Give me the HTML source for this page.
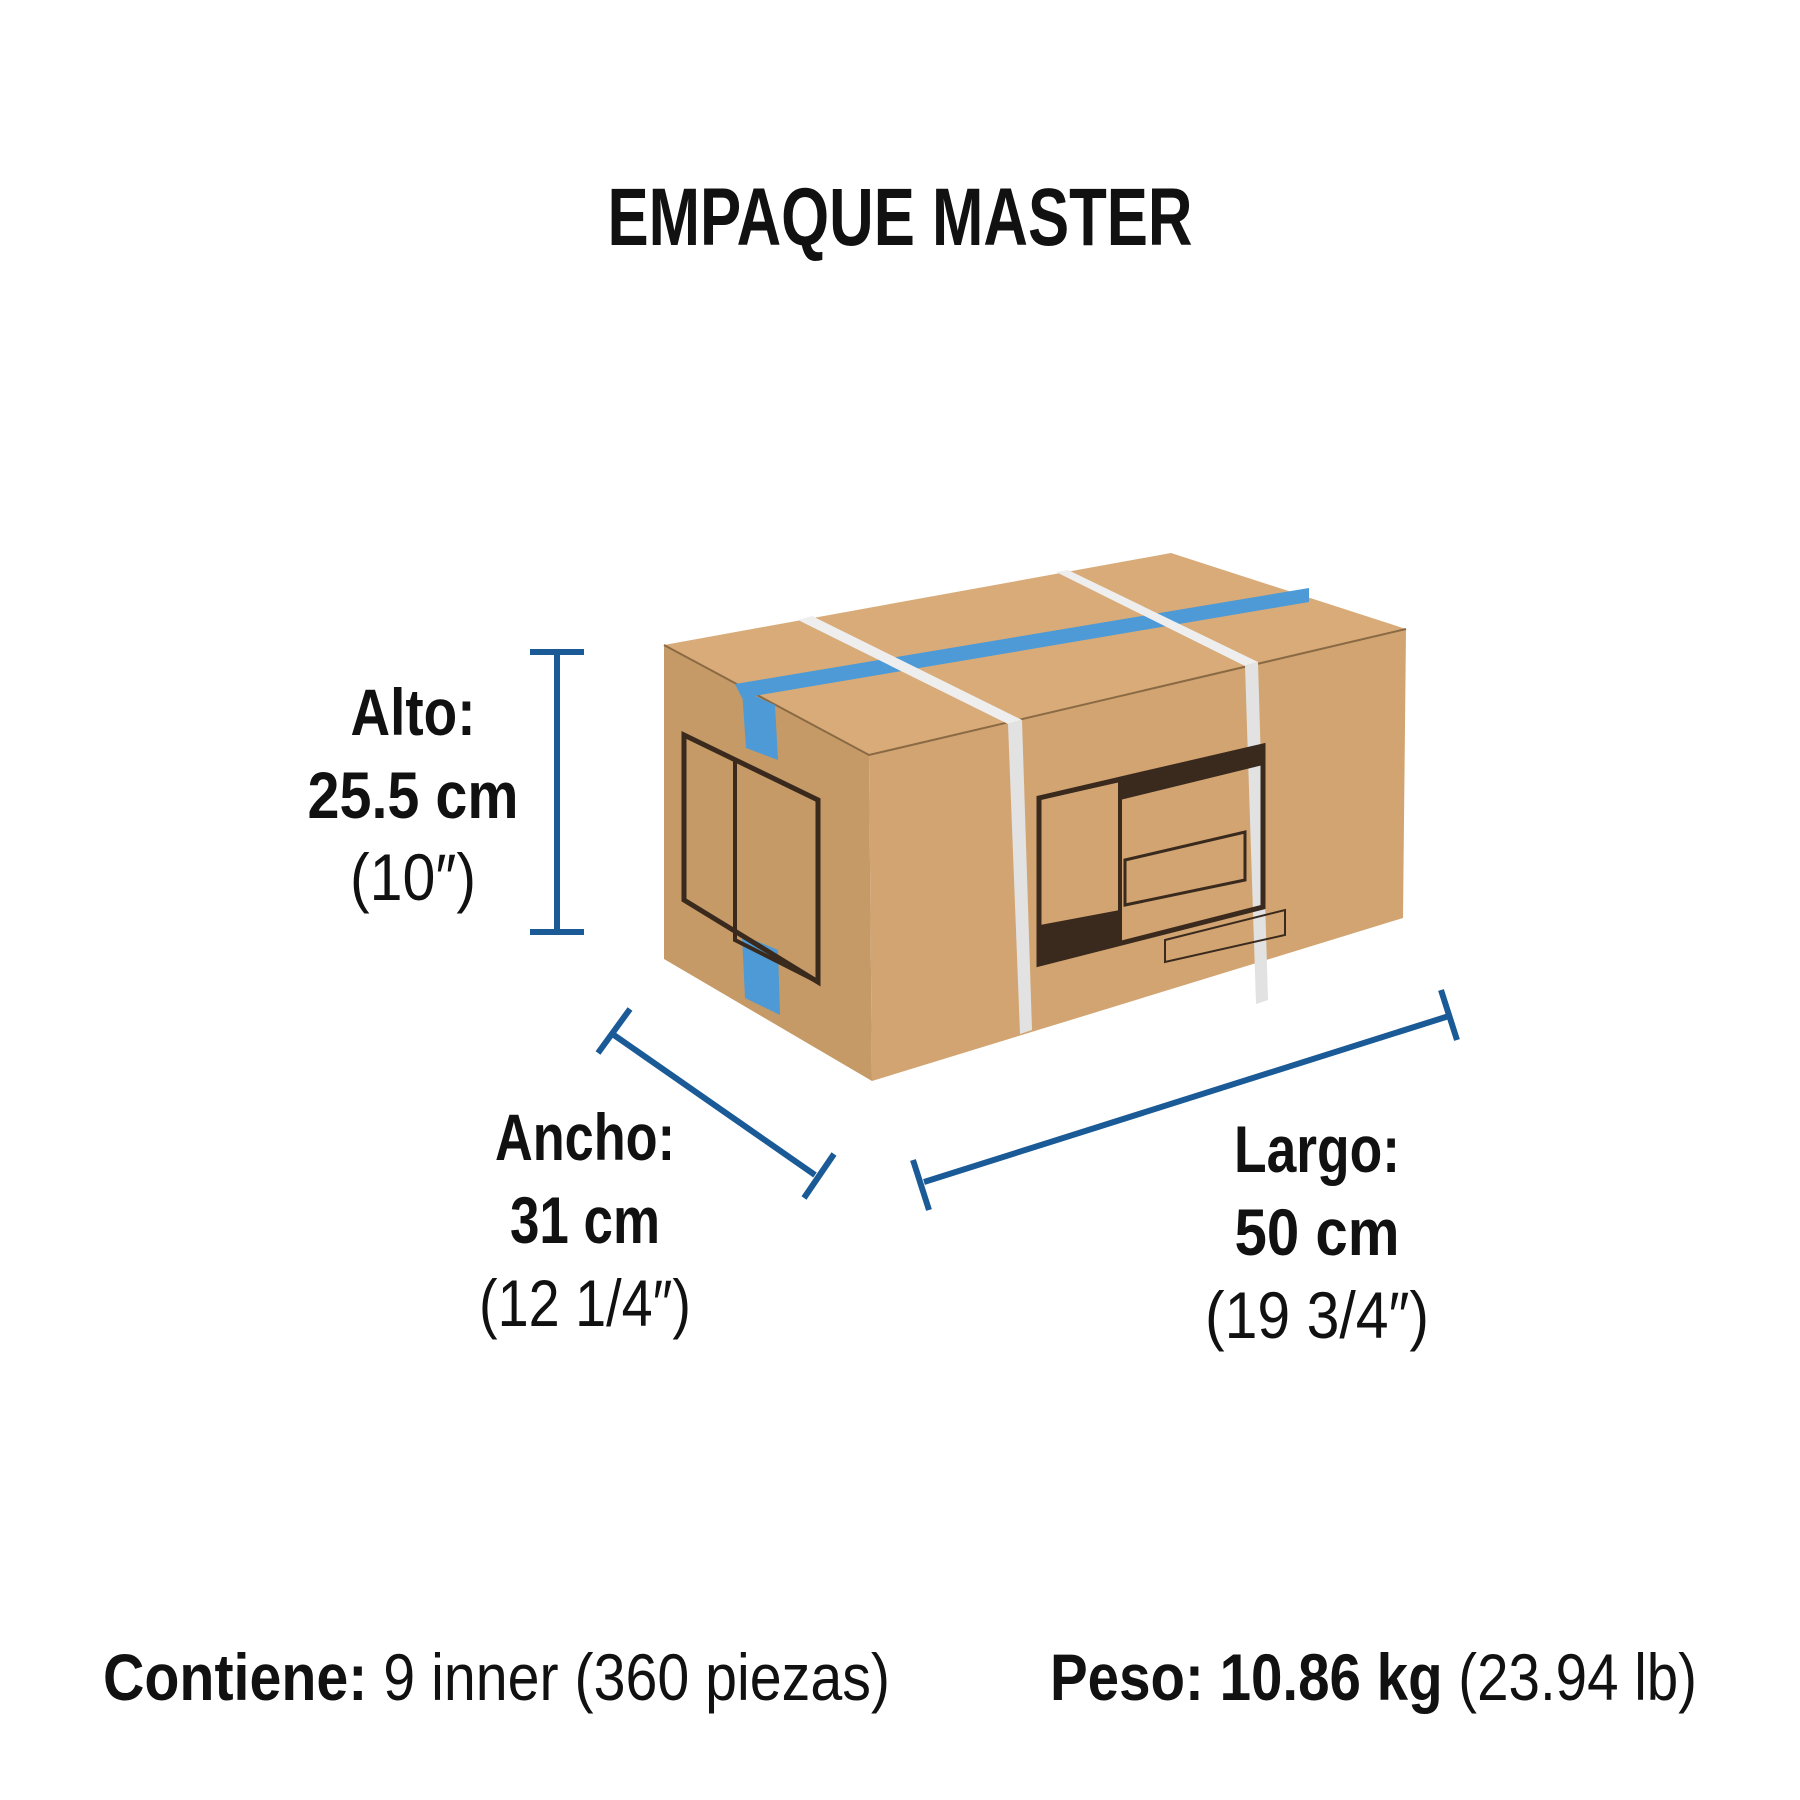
<!DOCTYPE html>
<html><head><meta charset="utf-8"><style>
html,body{margin:0;padding:0;background:#fff}
svg{display:block}
text{font-family:"Liberation Sans",sans-serif;fill:#111}
.b{font-weight:bold}
.n{font-weight:normal}
</style></head><body>
<svg width="1800" height="1800" viewBox="0 0 1800 1800" xmlns="http://www.w3.org/2000/svg">
<text class="b" x="900" y="245" text-anchor="middle" font-size="82" textLength="585" lengthAdjust="spacingAndGlyphs">EMPAQUE MASTER</text>

<!-- box -->
<polygon points="664,645 869,755 872,1081 664,959" fill="#c59a66"/>
<polygon points="869,755 1406,629 1403,918 872,1081" fill="#d2a471"/>
<polygon points="664,645 1171,553 1406,629 869,755" fill="#d8ab78"/>
<polyline points="664,645 869,755 1406,629" fill="none" stroke="#8a6a44" stroke-width="2"/>
<!-- blue tape -->
<polygon points="735,684 1309,588 1309,602 742,698" fill="#4d9ad6"/>
<polygon points="742,690 775,705 778,760 746,748" fill="#4d9ad6"/>
<polygon points="742,935 778,950 780,1015 745,998" fill="#4d9ad6"/>
<!-- straps -->
<polygon points="798,620 812,616 1022,720 1008,724" fill="#eeeeee"/>
<polygon points="1008,724 1022,720 1032,1030 1020,1034" fill="#e2e2e2"/>
<polygon points="1056,572 1068,570 1258,662 1245,666" fill="#eeeeee"/>
<polygon points="1245,666 1258,662 1268,1000 1256,1004" fill="#e2e2e2"/>
<!-- labels -->
<polygon points="684,735 818,800 818,982 684,900" fill="none" stroke="#3a2a1e" stroke-width="5"/>
<polygon points="735,760 818,800 818,982 735,940" fill="none" stroke="#3a2a1e" stroke-width="4"/>
<polygon points="1039,798 1263,746 1263,907 1039,964" fill="none" stroke="#3a2a1e" stroke-width="5"/>
<polygon points="1039,798 1120,780 1120,943 1039,964" fill="none" stroke="#3a2a1e" stroke-width="4"/>
<polygon points="1120,780 1263,746 1263,765 1120,800" fill="#3a2a1e"/>
<polygon points="1125,860 1245,832 1245,880 1125,905" fill="none" stroke="#3a2a1e" stroke-width="3"/>
<polygon points="1040,925 1120,910 1120,943 1040,962" fill="#3a2a1e"/>
<polygon points="1165,940 1285,910 1285,935 1165,962" fill="none" stroke="#3a2a1e" stroke-width="2"/>

<!-- dimension lines -->
<g stroke="#1a5a96" stroke-width="6" fill="none">
<line x1="557" y1="652" x2="557" y2="932"/>
<line x1="530" y1="652" x2="584" y2="652"/>
<line x1="530" y1="932" x2="584" y2="932"/>
<line x1="611" y1="1033" x2="815" y2="1175"/>
<line x1="630" y1="1009" x2="598" y2="1053"/>
<line x1="834" y1="1154" x2="804" y2="1198"/>
<line x1="924" y1="1182" x2="1449" y2="1016"/>
<line x1="913" y1="1160" x2="929" y2="1210"/>
<line x1="1441" y1="990" x2="1457" y2="1040"/>
</g>

<g font-size="66" text-anchor="middle">
<text class="b" x="413" y="735" textLength="125" lengthAdjust="spacingAndGlyphs">Alto:</text>
<text class="b" x="413" y="818" textLength="211" lengthAdjust="spacingAndGlyphs">25.5 cm</text>
<text class="n" x="413" y="900" textLength="126" lengthAdjust="spacingAndGlyphs">(10″)</text>
<text class="b" x="585" y="1160" textLength="180" lengthAdjust="spacingAndGlyphs">Ancho:</text>
<text class="b" x="585" y="1243" textLength="150" lengthAdjust="spacingAndGlyphs">31 cm</text>
<text class="n" x="585" y="1326" textLength="212" lengthAdjust="spacingAndGlyphs">(12 1/4″)</text>
<text class="b" x="1317" y="1172" textLength="166" lengthAdjust="spacingAndGlyphs">Largo:</text>
<text class="b" x="1317" y="1255" textLength="165" lengthAdjust="spacingAndGlyphs">50 cm</text>
<text class="n" x="1317" y="1338" textLength="224" lengthAdjust="spacingAndGlyphs">(19 3/4″)</text>
</g>
<g font-size="66">
<text class="b" x="103" y="1700" textLength="787" lengthAdjust="spacingAndGlyphs">Contiene: <tspan class="n">9 inner (360 piezas)</tspan></text>
<text class="b" x="1050" y="1700" textLength="647" lengthAdjust="spacingAndGlyphs">Peso: 10.86 kg <tspan class="n">(23.94 lb)</tspan></text>
</g>
</svg>
</body></html>
